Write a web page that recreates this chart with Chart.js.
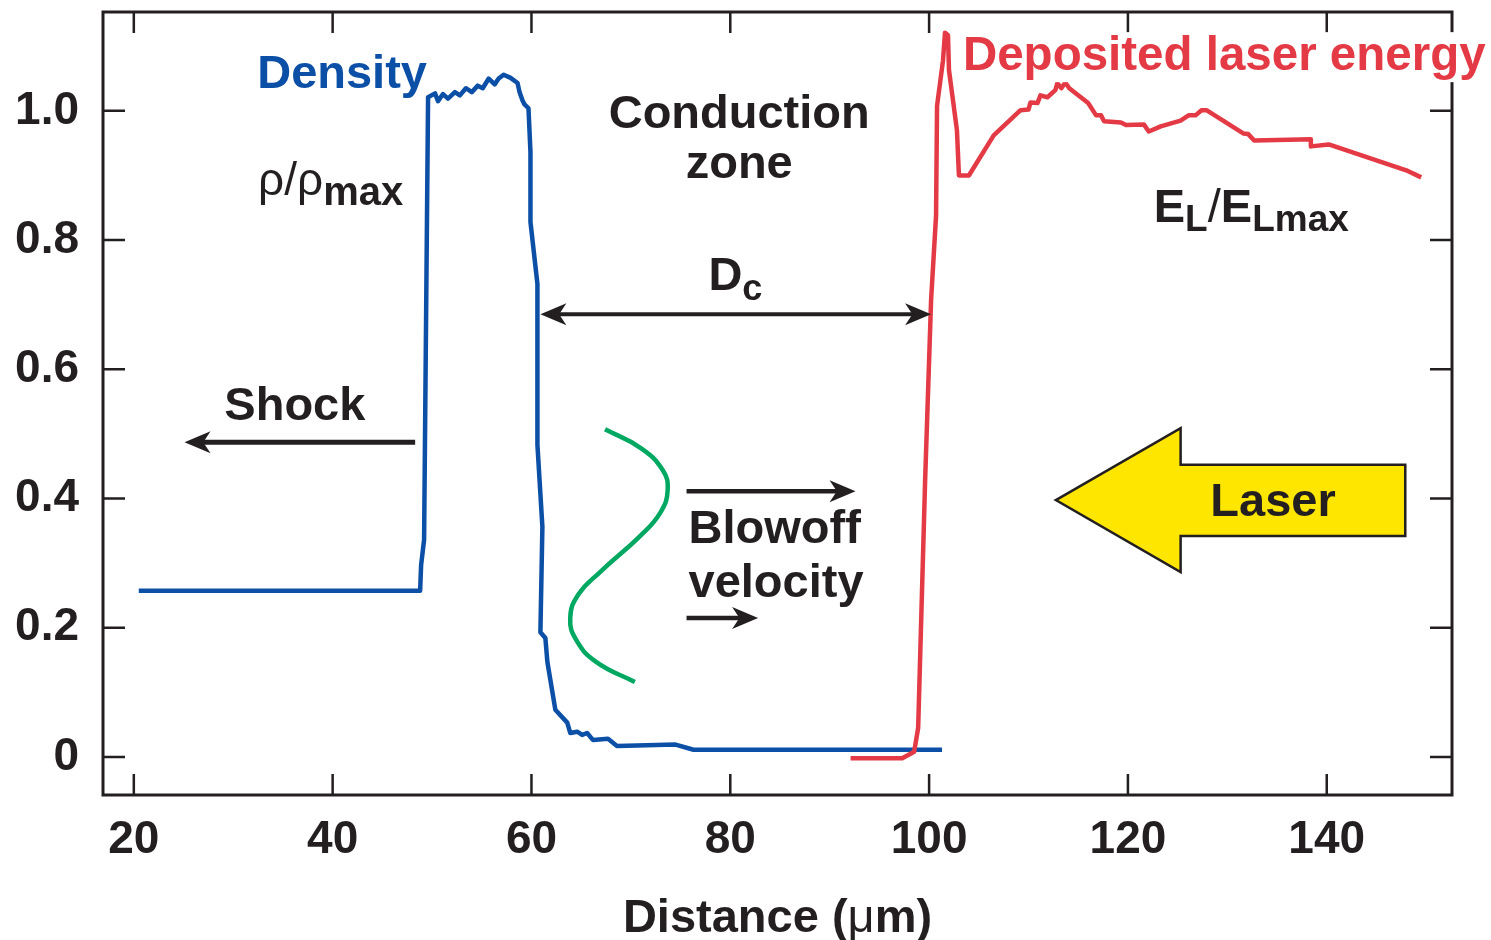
<!DOCTYPE html>
<html>
<head>
<meta charset="utf-8">
<script src="https://cdn.jsdelivr.net/npm/chart.js@4.4.0/dist/chart.umd.min.js"></script>
<style>
  html, body { margin: 0; padding: 0; background: #fff; }
  #wrap { width: 1491px; height: 940px; }
</style>
</head>
<body>
<div id="wrap"><canvas id="chart" width="1491" height="940"></canvas></div>
<script>
'use strict';

// values (distance in µm, normalised quantities)
const densityX = [20.5, 48.8, 48.9, 49.2, 49.6, 50.3, 50.6, 51.1, 51.6, 52.3, 52.8, 53.4, 54.0, 54.6, 55.1,
  55.7, 56.3, 56.7, 57.2, 57.9, 58.6, 58.8, 59.1, 59.3, 59.7, 59.9, 59.9, 60.6, 60.6, 61.1, 60.9, 61.4,
  61.6, 62.4, 63.6, 63.9, 64.6, 65.1, 65.6, 66.2, 67.7, 68.6, 74.5, 76.3, 101.3];
const densityY = [0.257, 0.257, 0.297, 0.336, 1.021, 1.027, 1.015, 1.026, 1.019, 1.029, 1.024, 1.035, 1.029,
  1.039, 1.035, 1.05, 1.041, 1.05, 1.056, 1.051, 1.043, 1.029, 1.016, 1.01, 1.004, 0.936, 0.828, 0.732,
  0.483, 0.356, 0.193, 0.184, 0.147, 0.073, 0.053, 0.037, 0.039, 0.034, 0.037, 0.026, 0.028, 0.017,
  0.019, 0.011, 0.011];

const energyX = [92.1, 97.3, 98.5, 98.9, 99.6, 100.2, 100.7, 100.8, 101.4, 101.6, 101.9, 102.0, 102.8, 103.0,
  104.0, 106.5, 109.2, 110.0, 110.2, 110.9, 111.2, 111.9, 112.7, 112.9, 113.3, 113.7, 114.1, 116.0,
  116.8, 117.3, 117.6, 119.3, 119.8, 121.6, 122.1, 123.3, 125.3, 126.1, 126.8, 127.4, 127.9, 131.6,
  132.1, 132.7, 138.4, 138.4, 140.2, 148.0, 149.5];
const energyY = [-0.002, -0.002, 0.008, 0.045, 0.428, 0.707, 0.838, 1.008, 1.078, 1.121, 1.117, 1.063, 0.970,
  0.900, 0.900, 0.962, 1.001, 1.002, 1.013, 1.012, 1.024, 1.021, 1.032, 1.043, 1.035, 1.044, 1.035,
  1.012, 0.993, 0.993, 0.984, 0.982, 0.978, 0.979, 0.968, 0.976, 0.985, 0.993, 0.993, 1.001, 1.001,
  0.965, 0.964, 0.954, 0.956, 0.945, 0.948, 0.908, 0.897];

// sketch of the blowoff velocity profile
const velocityX = [67.4, 71.0, 73.2, 73.7, 73.0, 71.0, 66.9, 64.7, 63.9, 64.5, 66.5, 70.4];
const velocityY = [0.507, 0.478, 0.444, 0.413, 0.379, 0.343, 0.286, 0.251, 0.215, 0.181, 0.147, 0.116];

const xTicks = [20, 40, 60, 80, 100, 120, 140];
const yTicks = [0, 0.2, 0.4, 0.6, 0.8, 1.0];

const INK = '#231f20';
const BLUE = '#0b4fa6';
const RED = '#e43a45';
const GREEN = '#00a862';
const YELLOW = '#ffe600';
const FONT = '"Liberation Sans", Arial, Helvetica, sans-serif';

const toPoints = (xs, ys) => xs.map((x, i) => ({ x, y: ys[i] }));

// draws a run of text pieces (for sub/superscripts) starting at x, baseline y
function drawRuns(ctx, x, y, runs, align) {
  let total = 0;
  runs.forEach(r => { ctx.font = r.font; total += ctx.measureText(r.t).width; });
  let cx = align === 'center' ? x - total / 2 : x;
  ctx.textAlign = 'left';
  ctx.textBaseline = 'alphabetic';
  runs.forEach(r => {
    ctx.font = r.font;
    ctx.fillStyle = r.color || INK;
    ctx.fillText(r.t, cx, y + (r.dy || 0));
    cx += ctx.measureText(r.t).width;
  });
  return total;
}

function arrowHead(ctx, tx, ty, dir, len, half) {
  // dir = +1 points right, -1 points left
  ctx.beginPath();
  ctx.moveTo(tx, ty);
  ctx.lineTo(tx - dir * len, ty - half);
  ctx.lineTo(tx - dir * len * 0.72, ty);
  ctx.lineTo(tx - dir * len, ty + half);
  ctx.closePath();
  ctx.fill();
}

function hArrow(ctx, x1, x2, y, lw, both) {
  const dir = x2 > x1 ? 1 : -1;
  ctx.strokeStyle = INK;
  ctx.fillStyle = INK;
  ctx.lineWidth = lw;
  ctx.beginPath();
  ctx.moveTo(both ? x1 + dir * 18 : x1, y);
  ctx.lineTo(x2 - dir * 18, y);
  ctx.stroke();
  arrowHead(ctx, x2, y, dir, 26, 11);
  if (both) arrowHead(ctx, x1, y, -dir, 26, 11);
}

const annotations = {
  id: 'annotations',
  afterDatasetsDraw(chart) {
    const { ctx, chartArea: a, scales: { x, y } } = chart;
    const px = v => x.getPixelForValue(v);
    const py = v => y.getPixelForValue(v);
    ctx.save();

    // frame and inward ticks on all sides
    ctx.strokeStyle = INK;
    ctx.lineWidth = 3;
    ctx.strokeRect(a.left, a.top, a.right - a.left, a.bottom - a.top);
    ctx.lineWidth = 2.5;
    ctx.beginPath();
    xTicks.forEach(v => {
      const p = px(v);
      ctx.moveTo(p, a.bottom); ctx.lineTo(p, a.bottom - 21);
      ctx.moveTo(p, a.top); ctx.lineTo(p, a.top + 21);
    });
    yTicks.forEach(v => {
      const p = py(v);
      ctx.moveTo(a.left, p); ctx.lineTo(a.left + 22, p);
      ctx.moveTo(a.right, p); ctx.lineTo(a.right - 22, p);
    });
    ctx.stroke();

    // arrows
    hArrow(ctx, px(48.3), px(25.1), py(0.487), 5, false);
    hArrow(ctx, px(60.9), px(100.2), py(0.685), 4, true);
    hArrow(ctx, px(75.6), px(92.6), py(0.411), 4.5, false);
    hArrow(ctx, px(75.6), px(82.8), py(0.215), 4.5, false);

    // big laser arrow
    ctx.beginPath();
    ctx.moveTo(px(112.75), py(0.3975));
    ctx.lineTo(px(125.3), py(0.509));
    ctx.lineTo(px(125.3), py(0.452));
    ctx.lineTo(px(147.9), py(0.452));
    ctx.lineTo(px(147.9), py(0.342));
    ctx.lineTo(px(125.3), py(0.342));
    ctx.lineTo(px(125.3), py(0.286));
    ctx.closePath();
    ctx.fillStyle = YELLOW;
    ctx.fill();
    ctx.lineWidth = 2.5;
    ctx.strokeStyle = INK;
    ctx.stroke();

    const B = s => `bold ${s}px ${FONT}`;
    const R = s => `${s}px ${FONT}`;

    drawRuns(ctx, px(40.95), py(1.035), [{ t: 'Density', font: B(47), color: BLUE }], 'center');
    drawRuns(ctx, px(32.5), py(0.869), [
      { t: 'ρ/ρ', font: R(46) },
      { t: 'max', font: B(40), dy: 10 }
    ], 'left');
    drawRuns(ctx, px(80.9), py(0.974), [{ t: 'Conduction', font: B(47) }], 'center');
    drawRuns(ctx, px(80.9), py(0.896), [{ t: 'zone', font: B(47) }], 'center');
    drawRuns(ctx, px(77.8), py(0.722), [
      { t: 'D', font: B(47) },
      { t: 'c', font: B(36), dy: 10 }
    ], 'left');
    drawRuns(ctx, px(36.2), py(0.521), [{ t: 'Shock', font: B(47) }], 'center');
    drawRuns(ctx, px(75.8), py(0.331), [{ t: 'Blowoff', font: B(47) }], 'left');
    drawRuns(ctx, px(75.8), py(0.247), [{ t: 'velocity', font: B(47) }], 'left');
    drawRuns(ctx, px(134.6), py(0.373), [{ t: 'Laser', font: B(47) }], 'center');
    drawRuns(ctx, px(122.6), py(0.828), [
      { t: 'E', font: B(47) },
      { t: 'L', font: B(37), dy: 9 },
      { t: '/', font: R(47) },
      { t: 'E', font: B(47) },
      { t: 'Lmax', font: B(37), dy: 9 }
    ], 'left');

    // title of the red curve sits on a white patch over the frame
    ctx.font = B(47.5);
    const w = ctx.measureText('Deposited laser energy').width;
    ctx.fillStyle = '#fff';
    ctx.fillRect(px(103.4) - 4, py(1.063) - 38, w + 8, 50);
    drawRuns(ctx, px(103.4), py(1.063), [{ t: 'Deposited laser energy', font: B(47.5), color: RED }], 'left');

    // x axis title
    drawRuns(ctx, (a.left + a.right) / 2, 932, [
      { t: 'Distance (', font: B(47) },
      { t: 'μ', font: R(47) },
      { t: 'm)', font: B(47) }
    ], 'center');

    ctx.restore();
  }
};

new Chart(document.getElementById('chart'), {
  type: 'line',
  data: {
    datasets: [
      {
        label: 'Deposited laser energy',
        data: toPoints(energyX, energyY),
        borderColor: RED, borderWidth: 4.5, pointRadius: 0, tension: 0,
        borderJoinStyle: 'round', fill: false
      },
      {
        label: 'Density',
        data: toPoints(densityX, densityY),
        borderColor: BLUE, borderWidth: 4.5, pointRadius: 0, tension: 0,
        borderJoinStyle: 'round', fill: false
      },
      {
        label: 'Blowoff velocity',
        data: toPoints(velocityX, velocityY),
        borderColor: GREEN, borderWidth: 4.5, pointRadius: 0, tension: 0.45,
        fill: false
      }
    ]
  },
  options: {
    responsive: false,
    animation: false,
    devicePixelRatio: 1,
    layout: { padding: { left: 0, top: 12, right: 39, bottom: 0 } },
    plugins: { legend: { display: false }, tooltip: { enabled: false } },
    scales: {
      x: {
        type: 'linear',
        min: 16.9, max: 152.6,
        grid: { display: false, drawTicks: false },
        border: { display: false },
        afterBuildTicks: s => { s.ticks = xTicks.map(v => ({ value: v })); },
        afterFit: s => { s.height = 145; s.paddingLeft = 0; s.paddingRight = 0; },
        ticks: {
          padding: 18,
          color: INK,
          font: { family: FONT, size: 46, weight: 'bold' },
          callback: v => String(v)
        }
      },
      y: {
        type: 'linear',
        min: -0.059, max: 1.153,
        grid: { display: false, drawTicks: false },
        border: { display: false },
        afterBuildTicks: s => { s.ticks = yTicks.map(v => ({ value: v })); },
        afterFit: s => { s.width = 103; s.paddingTop = 0; s.paddingBottom = 0; },
        ticks: {
          padding: 24,
          color: INK,
          font: { family: FONT, size: 46, weight: 'bold' },
          callback: v => (v === 0 ? '0' : v.toFixed(1))
        }
      }
    }
  },
  plugins: [annotations]
});
</script>
</body>
</html>
